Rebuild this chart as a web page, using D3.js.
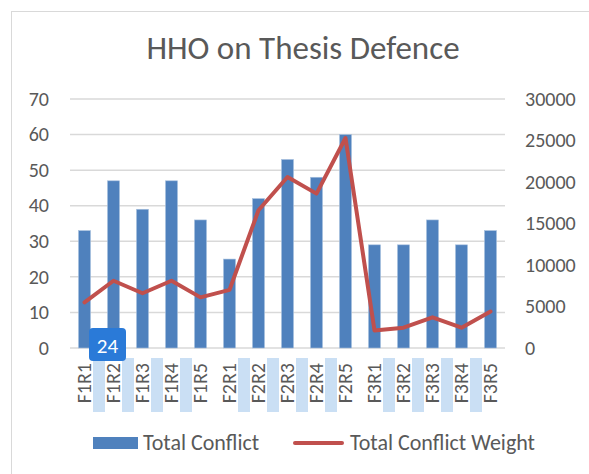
<!DOCTYPE html>
<html>
<head>
<meta charset="utf-8">
<script src="https://cdn.jsdelivr.net/npm/d3@7"></script>
<style>
  body { margin: 0; background: #fff; }
  svg { display: block; }
</style>
</head>
<body>
<script>
"use strict";

// DATA
const categories = ["F1R1", "F1R2", "F1R3", "F1R4", "F1R5",
  "F2R1", "F2R2", "F2R3", "F2R4", "F2R5",
  "F3R1", "F3R2", "F3R3", "F3R4", "F3R5"];
const totalConflict = [33, 47, 39, 47, 36, 25, 42, 53, 48, 60, 29, 29, 36, 29, 33];
const totalConflictWeight = [5500, 8100, 6600, 8100, 6100, 7000, 16600, 20600,
  18600, 25300, 2100, 2450, 3700, 2450, 4400];
const leftTicks = [0, 10, 20, 30, 40, 50, 60, 70];
const rightTicks = [0, 5000, 10000, 15000, 20000, 25000, 30000];
// boundaries picked out in light blue under the x labels
const highlighted = [1, 2, 3, 4, 6, 7, 8, 9, 11, 12, 13, 14];

const width = 589, height = 474;
const margin = { top: 99, right: 84, bottom: 126, left: 70 };
const font = "Carlito, 'Open Sans', 'Liberation Sans', sans-serif";
const textColor = "#595959";

const svg = d3.select("body").append("svg")
  .attr("width", width).attr("height", height)
  .attr("font-family", font);

// chart frame
svg.append("rect")
  .attr("x", 11.5).attr("y", 11.5)
  .attr("width", width + 20).attr("height", height + 20)
  .attr("fill", "none").attr("stroke", "#d9d9d9");

const x = d3.scaleBand(categories, [margin.left, width - margin.right]);
const yL = d3.scaleLinear([0, 70], [height - margin.bottom, margin.top]);
const yR = d3.scaleLinear([0, 30000], [height - margin.bottom, margin.top]);

// title
svg.append("text")
  .attr("x", 303).attr("y", 59)
  .attr("text-anchor", "middle")
  .attr("font-size", 33)
  .attr("fill", textColor)
  .text("HHO on Thesis Defence");

// gridlines
svg.append("g")
  .selectAll("line")
  .data(leftTicks)
  .join("line")
  .attr("x1", margin.left).attr("x2", width - margin.right)
  .attr("y1", (d) => yL(d)).attr("y2", (d) => yL(d))
  .attr("stroke", "#d9d9d9").attr("stroke-width", 1.5);

// left axis labels
svg.append("g")
  .attr("font-size", 20).attr("fill", textColor).attr("text-anchor", "end")
  .selectAll("text")
  .data(leftTicks)
  .join("text")
  .attr("x", 49).attr("y", (d) => yL(d) + 6.7)
  .text((d) => d);

// right axis labels
svg.append("g")
  .attr("font-size", 20).attr("fill", textColor)
  .selectAll("text")
  .data(rightTicks)
  .join("text")
  .attr("x", 525).attr("y", (d) => yR(d) + 6.7)
  .text((d) => d);

// highlight boxes behind the labels
svg.append("g")
  .selectAll("rect")
  .data(highlighted)
  .join("rect")
  .attr("x", (i) => x(categories[i]) - 6)
  .attr("y", 358).attr("width", 12).attr("height", 54)
  .attr("fill", "#cadff4");

// bars
const barW = 12;
svg.append("g")
  .selectAll("rect")
  .data(categories)
  .join("rect")
  .attr("x", (d) => x(d) + x.bandwidth() / 2 - barW / 2)
  .attr("y", (d, i) => yL(totalConflict[i]))
  .attr("width", barW)
  .attr("height", (d, i) => yL(0) - yL(totalConflict[i]))
  .attr("fill", "#4f81bd")
  .attr("stroke", "#a7c0de").attr("stroke-width", 0.6);

// line
const line = d3.line()
  .x((d, i) => x(categories[i]) + x.bandwidth() / 2)
  .y((d) => yR(d));
svg.append("path")
  .datum(totalConflictWeight)
  .attr("d", line)
  .attr("fill", "none")
  .attr("stroke", "#c0504d")
  .attr("stroke-width", 4)
  .attr("stroke-linejoin", "round")
  .attr("stroke-linecap", "round");

// x labels
svg.append("g")
  .attr("font-size", 20).attr("fill", textColor).attr("text-anchor", "end")
  .selectAll("text")
  .data(categories)
  .join("text")
  .attr("transform", (d) => `translate(${x(d) + x.bandwidth() / 2 + 6.5},363) rotate(-90)`)
  .text((d) => d);

// "24" badge
const badge = svg.append("g").attr("transform", "translate(89,328)");
badge.append("rect")
  .attr("width", 37).attr("height", 33).attr("rx", 4)
  .attr("fill", "#2a7ad8");
badge.append("text")
  .attr("x", 18.5).attr("y", 25)
  .attr("text-anchor", "middle")
  .attr("font-size", 21).attr("fill", "#fff")
  .text("24");

// legend
const legend = svg.append("g").attr("font-size", 22).attr("fill", textColor);
legend.append("rect")
  .attr("x", 93).attr("y", 437).attr("width", 45).attr("height", 12)
  .attr("fill", "#4f81bd");
legend.append("text").attr("x", 143).attr("y", 450).text("Total Conflict");
legend.append("line")
  .attr("x1", 295).attr("x2", 342).attr("y1", 443).attr("y2", 443)
  .attr("stroke", "#c0504d").attr("stroke-width", 4)
  .attr("stroke-linecap", "round");
legend.append("text").attr("x", 350).attr("y", 450).text("Total Conflict Weight");
</script>
</body>
</html>
